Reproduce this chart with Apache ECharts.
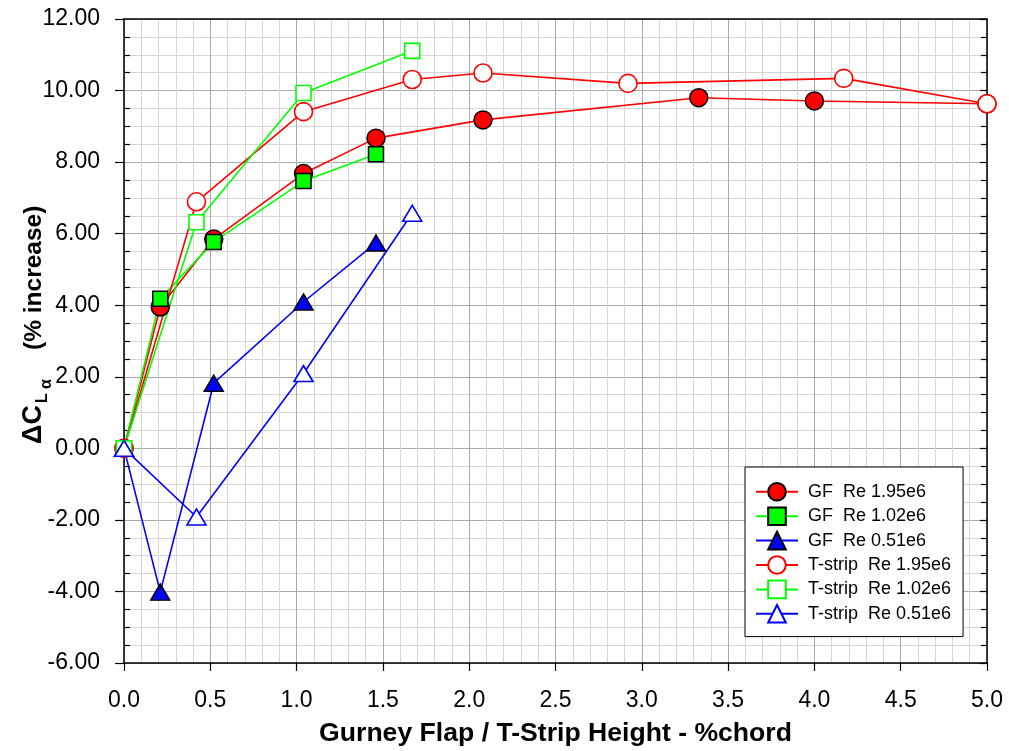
<!DOCTYPE html>
<html>
<head>
<meta charset="utf-8">
<script src="https://cdn.jsdelivr.net/npm/echarts@6/dist/echarts.min.js"></script>
<style>
  html, body { margin: 0; padding: 0; background: #fff; }
  #chart { width: 1009px; height: 751px; }
</style>
</head>
<body>
<div id="chart"></div>
<script>
// Gurney flap measurements (x: height in %chord, y: lift-curve-slope increase in %)
const gf195X = [0, 0.21, 0.52, 1.04, 1.46, 2.08, 3.33, 4.00, 5.00];
const gf195Y = [0, 3.95, 5.85, 7.68, 8.67, 9.18, 9.80, 9.71, 9.63];
const gf102X = [0, 0.21, 0.52, 1.04, 1.46];
const gf102Y = [0, 4.18, 5.77, 7.47, 8.22];
const gf051X = [0, 0.21, 0.52, 1.04, 1.46];
const gf051Y = [0, -4.02, 1.82, 4.09, 5.74];

// T-strip measurements
const ts195X = [0, 0.42, 1.04, 1.67, 2.08, 2.92, 4.17, 5.00];
const ts195Y = [0, 6.89, 9.41, 10.31, 10.49, 10.20, 10.34, 9.63];
const ts102X = [0, 0.42, 1.04, 1.67];
const ts102Y = [0, 6.32, 9.93, 11.11];
const ts051X = [0, 0.42, 1.04, 1.67];
const ts051Y = [0, -1.92, 2.09, 6.57];

const seriesNames = [
  'GF  Re 1.95e6', 'GF  Re 1.02e6', 'GF  Re 0.51e6',
  'T-strip  Re 1.95e6', 'T-strip  Re 1.02e6', 'T-strip  Re 0.51e6'
];

const xTickMin = 0, xTickMax = 5, xTickStep = 0.5;
const yTickMin = -6, yTickMax = 12, yTickStep = 2;

const RED = '#ff0000', GREEN = '#00ff00', BLUE = '#0000ff';
const FONT = '"Liberation Sans", Arial, Helvetica, sans-serif';

function pairs(xs, ys) { return xs.map((x, i) => [x, ys[i]]); }

function makeSeries(name, xs, ys, color, symbol, size, filled) {
  return {
    name: name,
    type: 'line',
    data: pairs(xs, ys),
    color: color,
    symbol: symbol,
    symbolSize: size,
    showAllSymbol: true,
    lineStyle: { color: color, width: 1.6 },
    itemStyle: filled
      ? { color: color, borderColor: '#000', borderWidth: 1.5 }
      : { color: '#ffffff', borderColor: color, borderWidth: 1.6 },
    emphasis: { disabled: true },
    z: 3
  };
}

const chart = echarts.init(document.getElementById('chart'), null, { renderer: 'canvas' });

const option = {
  animation: false,
  backgroundColor: '#ffffff',
  textStyle: { fontFamily: FONT },
  grid: { left: 124, top: 19, right: 22, bottom: 88, containLabel: false, outerBoundsMode: 'none' },
  xAxis: [
    {
      type: 'value', position: 'bottom',
      min: xTickMin, max: xTickMax, interval: xTickStep,
      name: 'Gurney Flap / T-Strip Height - %chord',
      nameLocation: 'middle', nameGap: 57,
      nameTextStyle: { fontSize: 26.6, fontWeight: 'bold', color: '#000', fontFamily: FONT },
      axisLine: { show: true, onZero: false, lineStyle: { color: '#000', width: 1.5 } },
      axisTick: { show: true, inside: false, length: 8, lineStyle: { color: '#000', width: 1.2 } },
      axisLabel: { fontSize: 23, color: '#000', margin: 26, fontFamily: FONT,
        formatter: v => v.toFixed(1) },
      splitLine: { show: true, lineStyle: { color: '#a9a9a9', width: 1 } },
      minorTick: { show: false, splitNumber: 5 },
      minorSplitLine: { show: true, lineStyle: { color: '#d6d6d6', width: 1 } }
    },
    {
      type: 'value', position: 'top',
      min: xTickMin, max: xTickMax, interval: xTickStep,
      axisLine: { show: true, onZero: false, lineStyle: { color: '#000', width: 1.5 } },
      axisTick: { show: false }, axisLabel: { show: false }, splitLine: { show: false }
    }
  ],
  yAxis: [
    {
      type: 'value', position: 'left',
      min: yTickMin, max: yTickMax, interval: yTickStep,
      axisLine: { show: true, onZero: false, lineStyle: { color: '#000', width: 1.5 } },
      axisTick: { show: true, inside: false, length: 9, lineStyle: { color: '#000', width: 1.2 } },
      axisLabel: { fontSize: 23, color: '#000', margin: 24, fontFamily: FONT,
        formatter: v => v.toFixed(2) },
      splitLine: { show: true, lineStyle: { color: '#a9a9a9', width: 1 } },
      minorTick: { show: false, splitNumber: 4 },
      minorSplitLine: { show: true, lineStyle: { color: '#d6d6d6', width: 1 } }
    },
    {
      // inner minor ticks along the left frame
      type: 'value', position: 'left',
      min: yTickMin, max: yTickMax, interval: yTickStep,
      axisLine: { show: false },
      axisTick: { show: false, inside: true },
      minorTick: { show: true, splitNumber: 4, length: 6, lineStyle: { color: '#000', width: 1.2 } },
      axisLabel: { show: false }, splitLine: { show: false }
    },
    {
      // right frame with inner ticks
      type: 'value', position: 'right',
      min: yTickMin, max: yTickMax, interval: yTickStep,
      axisLine: { show: true, onZero: false, lineStyle: { color: '#000', width: 1.5 } },
      axisTick: { show: true, inside: true, length: 7, lineStyle: { color: '#000', width: 1.2 } },
      minorTick: { show: true, splitNumber: 4, length: 6, lineStyle: { color: '#000', width: 1.2 } },
      axisLabel: { show: false }, splitLine: { show: false }
    }
  ],
  legend: {
    show: true,
    orient: 'vertical',
    left: 745, top: 467,
    padding: [15, 12, 13, 10],
    backgroundColor: '#ffffff',
    borderColor: '#000', borderWidth: 1,
    itemWidth: 42, itemHeight: 22, itemGap: 4.8,
    textStyle: { fontSize: 18, color: '#000', fontFamily: FONT, padding: [0, 0, 0, 5] },
    selectedMode: false,
    data: seriesNames
  },
  series: [
    makeSeries(seriesNames[0], gf195X, gf195Y, RED, 'circle', 18, true),
    makeSeries(seriesNames[1], gf102X, gf102Y, GREEN, 'rect', 15, true),
    makeSeries(seriesNames[2], gf051X, gf051Y, BLUE, 'triangle', [19, 16], true),
    makeSeries(seriesNames[3], ts195X, ts195Y, RED, 'circle', 18, false),
    makeSeries(seriesNames[4], ts102X, ts102Y, GREEN, 'rect', 15, false),
    makeSeries(seriesNames[5], ts051X, ts051Y, BLUE, 'triangle', [19, 16], false)
  ],
  graphic: [
    {
      // vertical axis title: ΔC with subscript L and sub-subscript α
      type: 'group',
      x: 34, y: 444,
      rotation: Math.PI / 2,
      children: [
        { type: 'text', x: 0, y: 0,
          style: { text: 'ΔC', font: 'bold 27px ' + FONT, fill: '#000', textVerticalAlign: 'middle', textAlign: 'left' } },
        { type: 'text', x: 41, y: 8.5,
          style: { text: 'L', font: 'bold 16px ' + FONT, fill: '#000', textVerticalAlign: 'middle', textAlign: 'left' } },
        { type: 'text', x: 55, y: 13,
          style: { text: 'α', font: 'bold 16px ' + FONT, fill: '#000', textVerticalAlign: 'middle', textAlign: 'left' } },
        { type: 'text', x: 94, y: 0,
          style: { text: '(% increase)', font: 'bold 24.5px ' + FONT, fill: '#000', textVerticalAlign: 'middle', textAlign: 'left' } }
      ]
    }
  ]
};

chart.setOption(option);
</script>
</body>
</html>
